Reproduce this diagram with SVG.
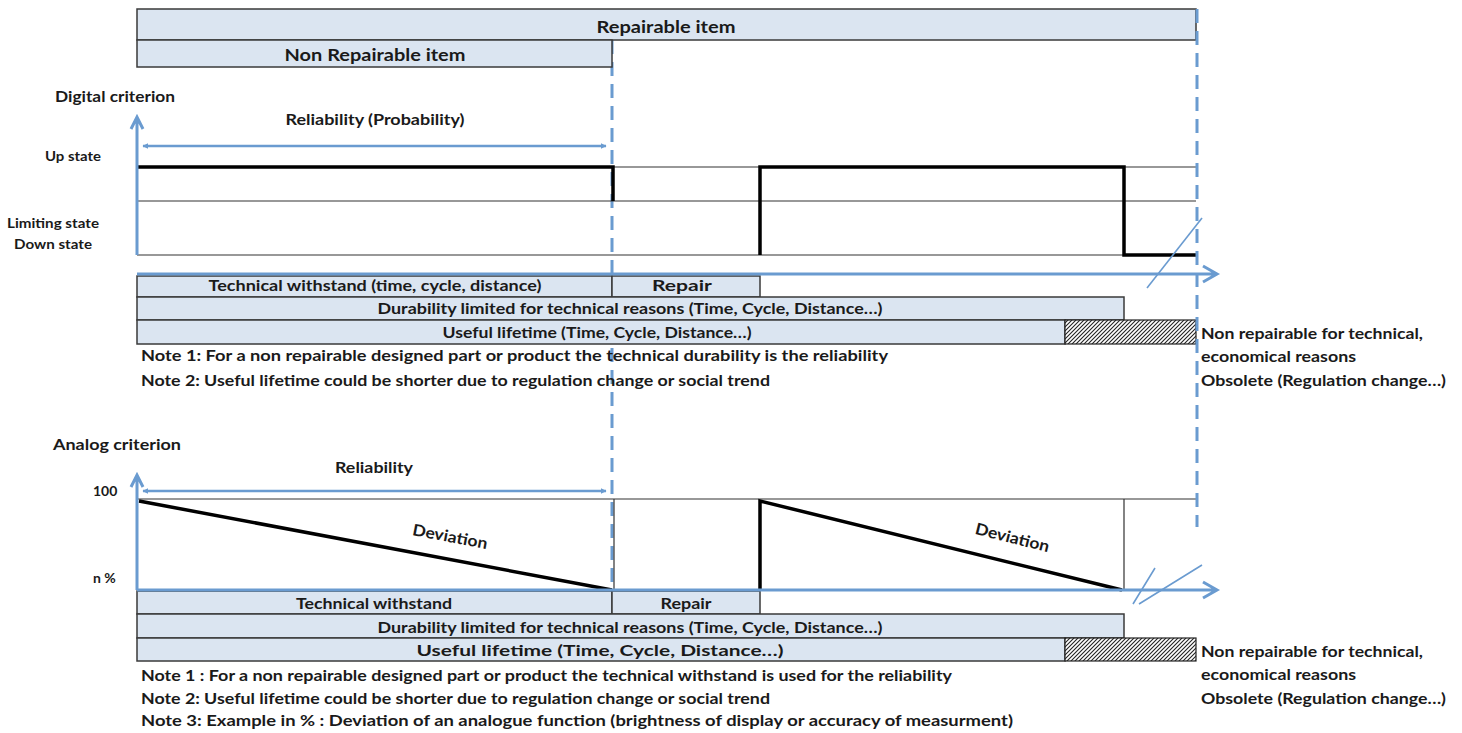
<svg xmlns="http://www.w3.org/2000/svg" width="1462" height="733" viewBox="0 0 1462 733">
<defs>
<style>
text{font-family:Lato,"Liberation Sans",sans-serif;font-weight:bold;fill:#1a1a1a;font-size:16px;}
.c{text-anchor:middle;}
.bar{fill:#dbe5f1;stroke:#3a3a3a;stroke-width:1.5;}
.thin{stroke:#333;stroke-width:1.2;fill:none;}
.thick{stroke:#000;stroke-width:3.5;fill:none;}
.blue{stroke:#6a9bd0;stroke-width:3;fill:none;}
.dash{stroke:#6a9bd0;stroke-width:3;fill:none;stroke-dasharray:14 8;}
.brk{stroke:#6a9bd0;stroke-width:1.6;fill:none;}
.sm{font-size:14px;}
</style>
<pattern id="hatch" patternUnits="userSpaceOnUse" width="4" height="4">
<rect width="4" height="4" fill="#fff"/>
<path d="M-1,1 L1,-1 M0,4 L4,0 M3,5 L5,3" stroke="#222" stroke-width="1.1"/>
</pattern>
<marker id="sa" viewBox="0 0 10 10" refX="9" refY="5" markerWidth="6" markerHeight="6" orient="auto-start-reverse" markerUnits="userSpaceOnUse">
<path d="M0,0 L10,5 L0,10 z" fill="#6a9bd0"/>
</marker>
</defs>

<g id="guides">
<path class="dash" d="M612,40 V598"/>
</g>

<g id="top-bars">
<rect class="bar" x="137" y="9" width="1059" height="31"/>
<text class="c" x="666" y="33" style="font-size:17px" textLength="139" lengthAdjust="spacingAndGlyphs">Repairable item</text>
<rect class="bar" x="137" y="40" width="475" height="27"/>
<text class="c" x="375" y="61" style="font-size:17px" textLength="181" lengthAdjust="spacingAndGlyphs">Non Repairable item</text>
</g>

<g id="digital-chart">
<text x="55" y="102" textLength="120" lengthAdjust="spacingAndGlyphs">Digital criterion</text>
<text class="c" x="375" y="125" textLength="179" lengthAdjust="spacingAndGlyphs">Reliability (Probability)</text>
<text class="sm" x="45" y="161" textLength="56" lengthAdjust="spacingAndGlyphs">Up state</text>
<text class="sm" x="7" y="228" textLength="92" lengthAdjust="spacingAndGlyphs">Limiting state</text>
<text class="sm" x="14" y="249" textLength="78" lengthAdjust="spacingAndGlyphs">Down state</text>
<path class="thin" d="M612,167 H1196 M137,201 H1196 M137,255 H1124"/>
<path class="thick" d="M137,167 H613 V201"/>
<path class="thick" d="M760,255 V167 H1124 V255 H1196"/>
</g>

<g id="digital-bars">
<rect class="bar" x="137" y="276" width="475" height="21"/>
<text class="c" x="375" y="291" textLength="333" lengthAdjust="spacingAndGlyphs">Technical withstand (time, cycle, distance)</text>
<rect class="bar" x="612" y="276" width="148" height="21"/>
<text class="c" x="682" y="291" textLength="60" lengthAdjust="spacingAndGlyphs">Repair</text>
<rect class="bar" x="137" y="297" width="987" height="23"/>
<text class="c" x="630" y="314" textLength="505" lengthAdjust="spacingAndGlyphs">Durability limited for technical reasons  (Time, Cycle, Distance…)</text>
<rect class="bar" x="137" y="320" width="928" height="24"/>
<text class="c" x="597" y="338" textLength="309" lengthAdjust="spacingAndGlyphs">Useful lifetime (Time, Cycle, Distance…)</text>
<rect x="1065" y="320" width="131" height="24" fill="url(#hatch)" stroke="#222" stroke-width="1.2"/>
<text x="141" y="361" textLength="747" lengthAdjust="spacingAndGlyphs">Note 1: For a non repairable designed part or product the technical durability is the reliability</text>
<text x="141" y="386" textLength="629" lengthAdjust="spacingAndGlyphs">Note 2: Useful lifetime could be shorter due to regulation change or social trend</text>
<text x="1201" y="339" textLength="222" lengthAdjust="spacingAndGlyphs">Non repairable for technical,</text>
<text x="1201" y="362" textLength="155" lengthAdjust="spacingAndGlyphs">economical reasons</text>
<text x="1201" y="386" textLength="245" lengthAdjust="spacingAndGlyphs">Obsolete (Regulation change…)</text>
</g>

<g id="analog-chart">
<text x="53" y="450" textLength="128" lengthAdjust="spacingAndGlyphs">Analog criterion</text>
<text class="c" x="374" y="473" textLength="78" lengthAdjust="spacingAndGlyphs">Reliability</text>
<text class="sm" x="93" y="496">100</text>
<text class="sm" x="93" y="583">n %</text>
<path class="thin" d="M137,499 H1196 M614,499 V590 M1124,499 V590 M1124,590 H1196"/>
<path class="thick" d="M139,501 L612,590"/>
<path class="thick" d="M760,590 V501 L1122,590"/>
<text class="c" transform="translate(449,542) rotate(10.7)" style="font-size:16px" textLength="76" lengthAdjust="spacingAndGlyphs">Deviation</text>
<text class="c" transform="translate(1011,543) rotate(14)" style="font-size:16px" textLength="76" lengthAdjust="spacingAndGlyphs">Deviation</text>
</g>

<g id="analog-bars">
<rect class="bar" x="137" y="591" width="475" height="23"/>
<text class="c" x="374" y="609" textLength="156" lengthAdjust="spacingAndGlyphs">Technical withstand</text>
<rect class="bar" x="612" y="591" width="148" height="23"/>
<text class="c" x="686" y="609" textLength="51" lengthAdjust="spacingAndGlyphs">Repair</text>
<rect class="bar" x="137" y="614" width="987" height="24"/>
<text class="c" x="630" y="633" textLength="505" lengthAdjust="spacingAndGlyphs">Durability limited for technical reasons  (Time, Cycle, Distance…)</text>
<rect class="bar" x="137" y="638" width="928" height="23"/>
<text class="c" x="600" y="656" textLength="367" lengthAdjust="spacingAndGlyphs">Useful lifetime  (Time, Cycle, Distance…)</text>
<rect x="1065" y="638" width="131" height="23" fill="url(#hatch)" stroke="#222" stroke-width="1.2"/>
<text x="141" y="681" textLength="811" lengthAdjust="spacingAndGlyphs">Note 1 : For a non repairable designed part or product the technical withstand is used for the reliability</text>
<text x="141" y="704" textLength="629" lengthAdjust="spacingAndGlyphs">Note 2: Useful lifetime could be shorter due to regulation change or social trend</text>
<text x="141" y="726" textLength="872" lengthAdjust="spacingAndGlyphs">Note 3: Example in % : Deviation of an analogue function (brightness of display or accuracy of measurment)</text>
<text x="1201" y="657" textLength="222" lengthAdjust="spacingAndGlyphs">Non repairable for technical,</text>
<text x="1201" y="680" textLength="155" lengthAdjust="spacingAndGlyphs">economical reasons</text>
<text x="1201" y="704" textLength="245" lengthAdjust="spacingAndGlyphs">Obsolete (Regulation change…)</text>
</g>

<g id="connectors">
<path class="blue" d="M137,255 V118 M131,129 L137,117 L143,129"/>
<path class="blue" d="M137,274 H1216 M1203,266 L1217,274 L1203,282"/>
<path class="blue" style="stroke-width:2.5" d="M143,146 H606" marker-start="url(#sa)" marker-end="url(#sa)"/>
<path class="blue" d="M137,590 V476 M131,487 L137,475 L143,487"/>
<path class="blue" d="M137,590 H1216 M1203,582 L1217,590 L1203,598"/>
<path class="blue" style="stroke-width:2.5" d="M143,491 H606" marker-start="url(#sa)" marker-end="url(#sa)"/>
<path class="dash" d="M1197,9 V527"/>
<path class="brk" d="M1147,288 L1202,218"/>
<path class="brk" d="M1133,604 L1155,568 M1139,604 L1202,565"/>
</g>
</svg>
